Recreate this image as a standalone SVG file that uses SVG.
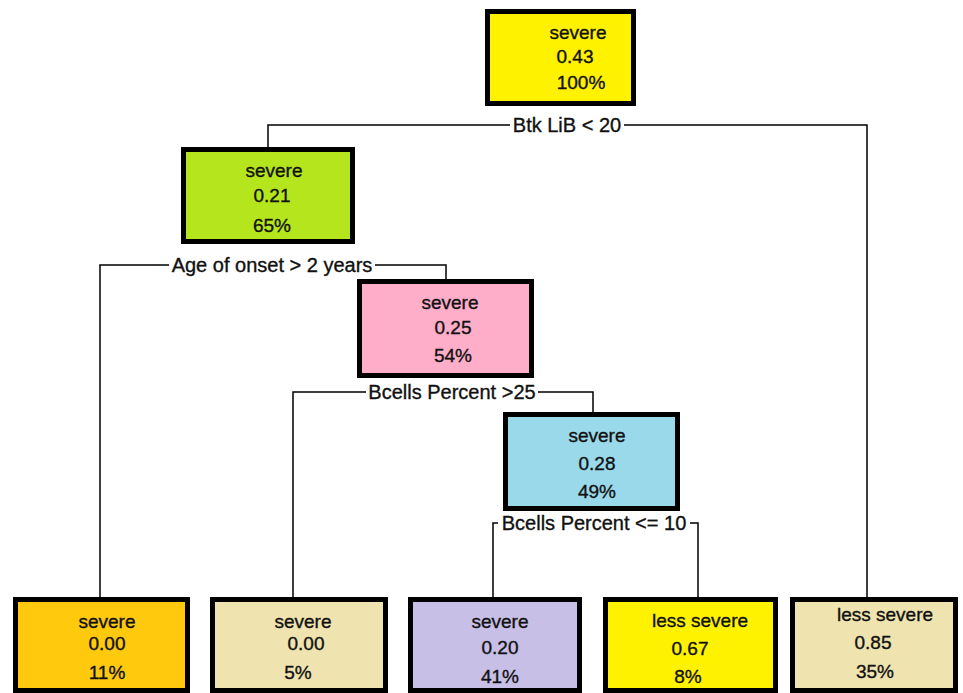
<svg xmlns="http://www.w3.org/2000/svg" width="963" height="693" viewBox="0 0 963 693">
<style>
.box{stroke:#000;stroke-width:5}
.t{font-family:"Liberation Sans",Arial,sans-serif;font-size:19px;fill:#111;stroke:#111;stroke-width:0.35;text-anchor:middle}
.lbl{font-family:"Liberation Sans",Arial,sans-serif;font-size:20px;fill:#111;stroke:#111;stroke-width:0.35;text-anchor:middle}
.c{fill:none;stroke:#000;stroke-width:1.5}
</style>
<rect width="963" height="693" fill="#fff"/>
<g id="connectors">
<path class="c" d="M268,147 V125 H510 M624,125 H867 V597"/>
<path class="c" d="M100,597 V265 H169 M375,265 H446 V279"/>
<path class="c" d="M293,597 V392 H366 M538,392 H593 V412"/>
<path class="c" d="M493,597 V523 H498 M690,523 H698 V597"/>
<text class="lbl" x="567" y="132">Btk LiB &lt; 20</text>
<text class="lbl" x="272" y="272">Age of onset &gt; 2 years</text>
<text class="lbl" x="452" y="399">Bcells Percent &gt;25</text>
<text class="lbl" x="594" y="530">Bcells Percent &lt;= 10</text>
</g>
<g id="n1">
<rect class="box" x="487.5" y="11.5" width="146" height="92" fill="#FFF200"/>
<text class="t" x="578" y="39">severe</text>
<text class="t" x="575" y="63">0.43</text>
<text class="t" x="581" y="89">100%</text>
</g>
<g id="n2">
<rect class="box" x="183.5" y="149.5" width="169" height="92" fill="#B5E61D"/>
<text class="t" x="274" y="177">severe</text>
<text class="t" x="272" y="202">0.21</text>
<text class="t" x="272" y="232">65%</text>
</g>
<g id="n3">
<rect class="box" x="359.5" y="281.5" width="172" height="94" fill="#FFAEC9"/>
<text class="t" x="450" y="309">severe</text>
<text class="t" x="453" y="334">0.25</text>
<text class="t" x="453" y="362">54%</text>
</g>
<g id="n4">
<rect class="box" x="505.5" y="414.5" width="172" height="94" fill="#99D9EA"/>
<text class="t" x="597" y="442">severe</text>
<text class="t" x="597" y="470">0.28</text>
<text class="t" x="597" y="498">49%</text>
</g>
<g id="b1">
<rect class="box" x="15.5" y="599.5" width="172" height="91" fill="#FFC90E"/>
<text class="t" x="107" y="628">severe</text>
<text class="t" x="107" y="650">0.00</text>
<text class="t" x="107" y="679">11%</text>
</g>
<g id="b2">
<rect class="box" x="212.5" y="599.5" width="173" height="91" fill="#EFE4B0"/>
<text class="t" x="303" y="628">severe</text>
<text class="t" x="306" y="650">0.00</text>
<text class="t" x="298" y="679">5%</text>
</g>
<g id="b3">
<rect class="box" x="410.5" y="599.5" width="169" height="91" fill="#C8BFE7"/>
<text class="t" x="500" y="628">severe</text>
<text class="t" x="500" y="654">0.20</text>
<text class="t" x="500" y="683">41%</text>
</g>
<g id="b4">
<rect class="box" x="605.5" y="599.5" width="170" height="91" fill="#FFF200"/>
<text class="t" x="700" y="627">less severe</text>
<text class="t" x="690" y="655">0.67</text>
<text class="t" x="688" y="683">8%</text>
</g>
<g id="b5">
<rect class="box" x="792.5" y="599.5" width="163" height="91" fill="#EFE4B0"/>
<text class="t" x="885" y="621">less severe</text>
<text class="t" x="873" y="649">0.85</text>
<text class="t" x="875" y="678">35%</text>
</g>
</svg>
